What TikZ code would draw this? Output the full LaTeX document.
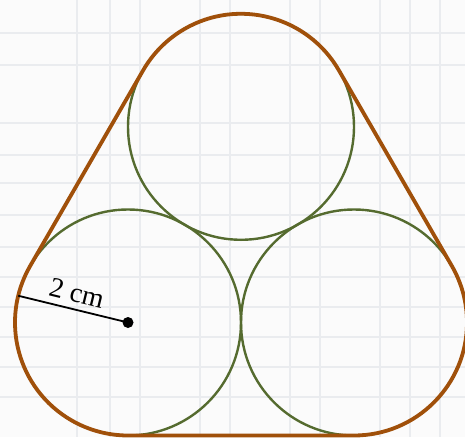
\documentclass[tikz,border=0pt]{standalone}
\usepackage{fontspec}
\setmainfont{Liberation Serif}
\usetikzlibrary{calc}
\definecolor{bandbrown}{RGB}{160,80,10}
\definecolor{olive}{RGB}{85,107,47}
\definecolor{gridgray}{RGB}{234,236,239}
\begin{document}
\begin{tikzpicture}[x=1pt,y=1pt,
  pipe/.style={circle,draw=olive,line width=2.4pt,minimum size=226pt,inner sep=0pt,outer sep=0pt},
  band/.style={draw=bandbrown,line width=3.8pt,line join=round},
  gridline/.style={draw=gridgray,line width=1.6pt}]
\useasboundingbox (0,0) rectangle (465,437);
\fill[white!97!gray] (0,0) rectangle (465,437);
% faint grid paper background
\foreach \gx in {77,110,140,200,230,290,320,380,410,440}
  \draw[gridline] (\gx,0) -- (\gx,437);
\foreach \gy in {33,65,123,155,183,215,247,277,307,337,367,397}
  \draw[gridline] (0,437-\gy) -- (465,437-\gy);
% pipes
\node[pipe] (A) at (128,114.5) {};
\node[pipe] (B) at (354,114.5) {};
\node[pipe] (C) at (241,310.2) {};
% band
\draw[band] ($(A)+(-90:113pt)$) -- ($(B)+(-90:113pt)$)
  arc[start angle=-90,end angle=30,radius=113pt]
  -- ($(C)+(30:113pt)$)
  arc[start angle=30,end angle=150,radius=113pt]
  -- ($(A)+(150:113pt)$)
  arc[start angle=150,end angle=270,radius=113pt] -- cycle;
% radius
\coordinate (R) at ($(A)+(166.3:113pt)$);
\draw[line width=1.8pt] (R) -- (A.center)
  node[midway,sloped,above=5pt,inner sep=1pt,font=\fontsize{28}{30}\selectfont] (L) {2 cm};
\fill (A.center) circle (5.5pt);
\end{tikzpicture}
\end{document}
